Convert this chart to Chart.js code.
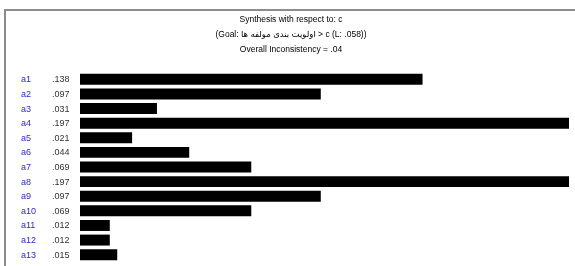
<!DOCTYPE html>
<html>
<head>
<meta charset="utf-8">
<script src="https://cdn.jsdelivr.net/npm/chart.js@4.4.1/dist/chart.umd.min.js"></script>
<style>
  html, body { margin: 0; padding: 0; background: #fff; }
  #wrap { width: 575px; height: 266px; position: relative; }
</style>
</head>
<body>
<div id="wrap"><canvas id="barChart"></canvas></div>
<script>
// datos del grafico
const alternativas = ['a1', 'a2', 'a3', 'a4', 'a5', 'a6', 'a7', 'a8', 'a9', 'a10', 'a11', 'a12', 'a13'];
const pesos = [0.138, 0.097, 0.031, 0.197, 0.021, 0.044, 0.069, 0.197, 0.097, 0.069, 0.012, 0.012, 0.015];
const etiquetasPeso = ['.138', '.097', '.031', '.197', '.021', '.044', '.069', '.197', '.097', '.069', '.012', '.012', '.015'];
const titulo = [
    'Synthesis with respect to: c',
    '(Goal: اولویت بندی مولفه ها > c (L: .058))',
    'Overall Inconsistency = .04'
];

// plugin para marco, titulo y etiquetas
const decoracion = {
    id: 'decoracion',
    afterDraw(chart) {
        const ctx = chart.ctx;
        const y = chart.scales.y;
        ctx.save();

        // marco gris
        ctx.strokeStyle = '#8c8c8c';
        ctx.lineWidth = 2;
        ctx.beginPath();
        ctx.moveTo(5, 266);
        ctx.lineTo(5, 10);
        ctx.lineTo(575, 10);
        ctx.stroke();

        // titulo
        ctx.fillStyle = '#000';
        ctx.font = '8.5px "Liberation Sans", Arial, "DejaVu Sans", sans-serif';
        ctx.textAlign = 'center';
        ctx.textBaseline = 'middle';
        titulo.forEach((t, i) => ctx.fillText(t, 291, 20 + i * 15));

        // nombres y valores
        ctx.font = '9px "Liberation Sans", Arial, sans-serif';
        ctx.textAlign = 'left';
        alternativas.forEach((nombre, i) => {
            const py = y.getPixelForValue(i) + 0.5;
            ctx.fillStyle = '#2b2bd6';
            ctx.fillText(nombre, 21, py);
            ctx.fillStyle = '#333';
            ctx.fillText(etiquetasPeso[i], 52, py);
        });
        ctx.restore();
    }
};

const ctx = document.getElementById('barChart').getContext('2d');
new Chart(ctx, {
    type: 'bar',
    data: {
        labels: alternativas,
        datasets: [{
            data: pesos,
            backgroundColor: '#000',
            borderWidth: 0,
            barPercentage: 0.75,
            categoryPercentage: 1
        }]
    },
    options: {
        indexAxis: 'y',
        responsive: true,
        maintainAspectRatio: false,
        animation: false,
        layout: { padding: { left: 80, right: 6, top: 72, bottom: 4 } },
        scales: {
            x: { display: false, min: 0, max: 0.197 },
            y: { display: false }
        },
        plugins: {
            legend: { display: false },
            tooltip: { enabled: false },
            title: { display: false }
        }
    },
    plugins: [decoracion]
});
</script>
</body>
</html>
